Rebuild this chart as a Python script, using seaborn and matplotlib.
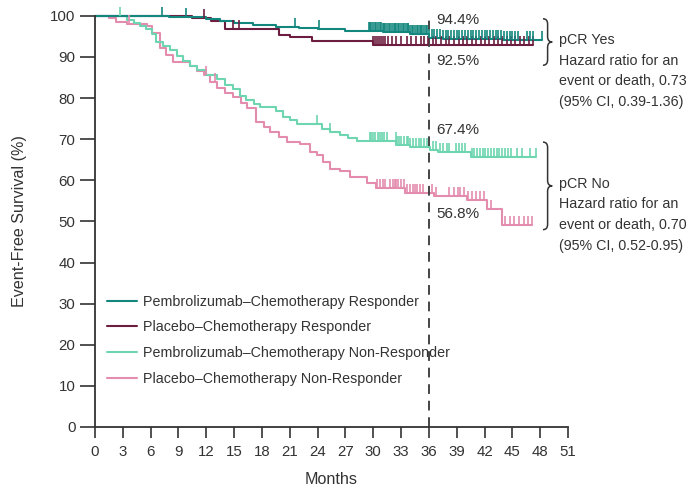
import numpy as np
import pandas as pd
import seaborn as sns
import matplotlib.pyplot as plt
from matplotlib.path import Path
from matplotlib.patches import PathPatch

# step curves: (month, event-free survival %)
pembro_resp_t = [0, 8.0, 12.0, 13.5, 15.0, 17.0, 19.5, 22.0, 24.0, 27.0, 31.0, 34.0, 36.0, 37.5, 44.0, 48.2]
pembro_resp_s = [100, 99.7, 99.2, 98.7, 98.2, 97.8, 97.3, 97.0, 96.7, 96.4, 96.0, 95.5, 94.6, 94.4, 94.2, 94.2]

placebo_resp_t = [0, 10.5, 12.5, 14.0, 19.8, 21.0, 23.4, 30.0, 47.2]
placebo_resp_s = [100, 99.4, 98.8, 96.7, 95.4, 94.8, 93.8, 93.0, 93.0]

pembro_nonresp_t = [0, 3.5, 4.2, 4.9, 5.5, 6.1, 6.6, 7.3, 8.1, 8.8, 9.5, 10.2, 11.0, 12.0, 13.1, 14.0,
                    14.9, 15.6, 16.3, 17.1, 17.8, 19.5, 20.3, 21.0, 21.8, 24.5, 25.3, 26.4, 27.3, 28.2,
                    32.5, 34.0, 36.1, 37.0, 38.6, 40.5, 47.6]
pembro_nonresp_s = [100, 99.0, 98.2, 97.6, 96.8, 95.6, 93.6, 92.6, 91.6, 90.2, 89.0, 87.9, 86.8, 85.6, 84.6, 83.2,
                    82.2, 80.5, 79.5, 78.5, 77.8, 76.8, 75.5, 74.6, 73.7, 72.5, 71.7, 71.0, 70.3, 69.6,
                    68.5, 68.0, 67.4, 67.0, 66.8, 65.7, 65.7]

placebo_nonresp_t = [0, 1.5, 2.3, 3.4, 5.6, 6.1, 7.0, 7.7, 8.4, 10.2, 11.0, 11.7, 12.4, 13.1, 14.0, 14.9,
                     15.7, 16.4, 17.4, 18.2, 18.9, 19.8, 20.7, 22.1, 23.2, 23.9, 24.6, 25.3, 26.4, 27.5,
                     29.3, 30.3, 33.4, 36.1, 36.6, 40.1, 42.3, 43.9, 47.1]
placebo_nonresp_s = [100, 99.5, 98.5, 98.0, 97.6, 95.8, 92.2, 90.5, 88.9, 87.7, 86.6, 85.6, 84.0, 82.4, 81.3, 80.3,
                     78.8, 77.5, 74.3, 73.0, 71.8, 70.5, 69.3, 68.8, 67.0, 66.1, 64.5, 62.8, 62.2, 60.7,
                     59.4, 58.2, 57.0, 56.8, 56.1, 55.1, 53.0, 49.1, 49.1]

# censoring times (months)
pembro_resp_cens = [7.2, 9.8, 21.6, 24.1, 29.5, 29.7, 29.8, 30.0, 30.2, 30.3, 30.5, 30.7, 30.8, 31.0, 31.2,
                    31.3, 31.5, 31.7, 31.8, 32.0, 32.2, 32.3, 32.5, 32.7, 32.8, 33.0, 33.2, 33.3, 33.5, 33.7,
                    33.8, 34.0, 34.2, 34.3, 34.5, 34.7, 34.8, 35.0, 35.2, 35.3, 35.5, 35.7, 35.8, 36.0,
                    36.3, 36.6, 36.9, 37.2, 37.5, 37.8, 38.1, 38.4, 38.7, 39.0, 39.3, 39.6, 39.9, 40.2, 40.5,
                    40.8, 41.1, 41.4, 41.7, 42.0, 42.3, 42.6, 42.9, 43.2, 43.5, 43.8, 44.1, 44.4, 44.7, 45.0,
                    45.3, 45.6, 46.6, 46.9, 47.2, 48.2]
placebo_resp_cens = [11.8, 14.9, 15.5, 30.0, 30.2, 30.4, 30.6, 30.8, 31.0, 31.3, 31.6, 32.0, 32.5, 33.0,
                     33.6, 34.1, 34.6, 35.1, 35.5, 35.9, 36.4, 36.8, 37.3, 37.8, 38.2, 38.7, 39.2, 39.7,
                     40.1, 40.6, 41.1, 41.6, 42.0, 42.5, 43.0, 43.4, 43.9, 44.4, 44.9, 45.3, 45.8, 46.3,
                     46.8, 47.2]
pembro_nonresp_cens = [2.7, 23.9, 25.3, 29.6, 29.8, 30.0, 30.2, 30.5, 30.7, 30.9, 31.2, 31.5, 32.4, 32.6,
                       32.8, 33.0, 33.3, 33.6, 33.8, 34.0, 34.3, 34.6, 34.9, 35.2, 35.5, 35.8, 36.4, 36.8,
                       37.2, 37.5, 37.9, 38.2, 38.9, 39.2, 39.6, 39.9, 40.6, 40.9, 41.2, 41.5, 41.8, 42.1,
                       42.4, 42.7, 43.0, 43.3, 43.6, 43.9, 44.2, 44.5, 44.8, 45.5, 46.0, 46.9, 47.6]
placebo_nonresp_cens = [3.7, 12.0, 12.9, 30.4, 30.7, 31.0, 31.3, 31.8, 32.1, 32.3, 32.5, 32.7, 33.0, 33.3,
                        33.6, 34.0, 34.3, 34.5, 34.7, 35.0, 35.4, 36.3, 36.8, 38.2, 38.7, 39.1, 39.4, 39.8,
                        40.2, 40.6, 41.1, 41.5, 41.9, 42.3, 42.7, 44.2, 44.7, 45.2, 45.7, 46.3, 46.7, 47.1]

labels = ["Pembrolizumab\u2013Chemotherapy Responder",
          "Placebo\u2013Chemotherapy Responder",
          "Pembrolizumab\u2013Chemotherapy Non-Responder",
          "Placebo\u2013Chemotherapy Non-Responder"]
colors = ["#13877E", "#6D1E40", "#6DD5AF", "#E48CAE"]

x_ticks = list(range(0, 52, 3))
y_ticks = list(range(0, 101, 10))

landmark = 36
landmark_labels = ["94.4%", "92.5%", "67.4%", "56.8%"]
landmark_label_y = [99.1, 89.1, 72.2, 51.8]

yes_text = "pCR Yes\nHazard ratio for an\nevent or death, 0.73\n(95% CI, 0.39-1.36)"
no_text = "pCR No\nHazard ratio for an\nevent or death, 0.70\n(95% CI, 0.52-0.95)"


def brace(ax, x, top, bot, w, r=1.3):
    mid = (top + bot) / 2
    xm = x + w / 2
    xt = x + w
    verts = [(x, top), (xm, top), (xm, top - r), (xm, mid + r), (xm, mid), (xt, mid),
             (xm, mid), (xm, mid - r), (xm, bot + r), (xm, bot), (x, bot)]
    codes = [Path.MOVETO, Path.CURVE3, Path.CURVE3, Path.LINETO, Path.CURVE3, Path.CURVE3,
             Path.CURVE3, Path.CURVE3, Path.LINETO, Path.CURVE3, Path.CURVE3]
    ax.add_patch(PathPatch(Path(verts, codes), fill=False, lw=1.1, ec="#333333", clip_on=False))


def vis():
    sns.set_style("white")
    plt.rcParams["font.family"] = ["Liberation Sans", "DejaVu Sans"]
    fs = 10.3

    fig = plt.figure(figsize=(6.9, 4.9), dpi=100)
    ax = fig.add_axes([0.1377, 0.1286, 0.6855, 0.839])

    curves = [(pembro_resp_t, pembro_resp_s, pembro_resp_cens),
              (placebo_resp_t, placebo_resp_s, placebo_resp_cens),
              (pembro_nonresp_t, pembro_nonresp_s, pembro_nonresp_cens),
              (placebo_nonresp_t, placebo_nonresp_s, placebo_nonresp_cens)]
    tick = Path([(0, 0), (0, 1)], [Path.MOVETO, Path.LINETO])

    # draw the lighter non-responder curves first
    for i in [3, 2, 1, 0]:
        t, s, cens = curves[i]
        df = pd.DataFrame({"month": t, "efs": s})
        sns.lineplot(data=df, x="month", y="efs", drawstyle="steps-post", estimator=None,
                     color=colors[i], lw=1.5, label=labels[i], ax=ax, clip_on=False)
        idx = np.searchsorted(t, cens, side="right") - 1
        cdf = pd.DataFrame({"month": cens, "efs": np.array(s)[idx]})
        sns.scatterplot(data=cdf, x="month", y="efs", marker=tick, s=150, color=colors[i],
                        edgecolor=colors[i], linewidth=1.2, ax=ax, clip_on=False, zorder=3)

    ax.axvline(landmark, color="#444444", lw=1.4, ls=(0, (5, 3.5)))
    for lab, y in zip(landmark_labels, landmark_label_y):
        ax.text(landmark + 0.8, y, lab, fontsize=fs + 0.7, va="center", ha="left", color="#333333")

    brace(ax, 48.3, 99.3, 88.0, 1.0)
    brace(ax, 48.3, 69.3, 48.0, 1.0)
    ax.text(50.05, 95.9, yes_text, fontsize=fs, va="top", ha="left", linespacing=1.62,
            color="#333333", clip_on=False)
    ax.text(50.05, 60.9, no_text, fontsize=fs, va="top", ha="left", linespacing=1.62,
            color="#333333", clip_on=False)

    ax.set_xlim(0, 51)
    ax.set_ylim(0, 100)
    ax.set_xticks(x_ticks)
    ax.set_yticks(y_ticks)
    ax.tick_params(axis="x", direction="out", length=8, width=1.2, pad=5, labelsize=10.8,
                   bottom=True, color="#333333", labelcolor="#333333")
    ax.tick_params(axis="y", direction="out", length=11, width=1.2, pad=3, labelsize=10.8,
                   left=True, color="#333333", labelcolor="#333333")
    sns.despine(ax=ax)
    for sp in ["left", "bottom"]:
        ax.spines[sp].set_linewidth(1.3)
        ax.spines[sp].set_color("#333333")
    ax.set_xlabel("Months", fontsize=11.6, color="#333333", labelpad=9)
    ax.set_ylabel("Event-Free Survival (%)", fontsize=11.6, color="#333333", labelpad=17)

    handles, labs = ax.get_legend_handles_labels()
    order = [labs.index(l) for l in labels]
    ax.legend([handles[k] for k in order], labels, loc="upper left", bbox_to_anchor=(0.025, 0.322),
              frameon=False, fontsize=fs, handlelength=2.1, handletextpad=0.4, labelspacing=0.82,
              borderpad=0, borderaxespad=0, labelcolor="#333333")

    fig.savefig("out.png", dpi=100)


if __name__ == "__main__":
    vis()
